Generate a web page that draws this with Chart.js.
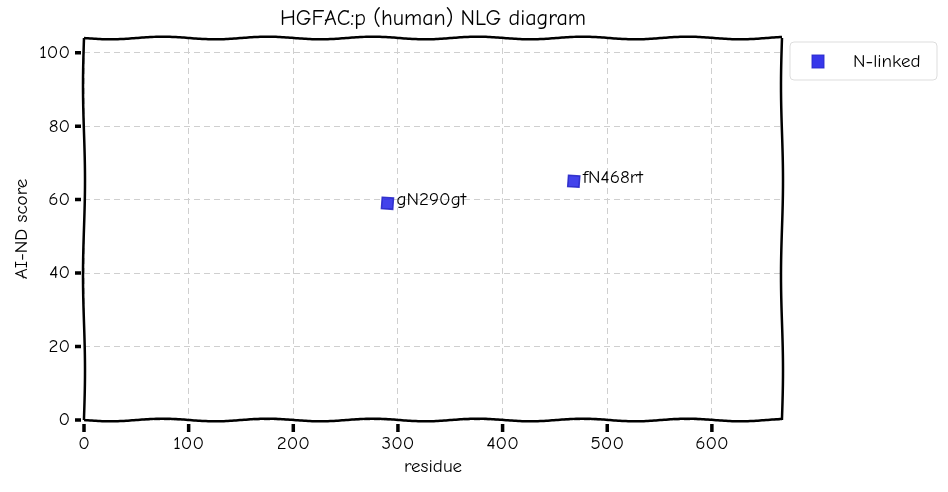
<!DOCTYPE html>
<html lang="en">
<head>
    <meta charset="UTF-8">
    <title>HGFAC:p (human) NLG diagram</title>
    <script src="https://cdn.jsdelivr.net/npm/chart.js"></script>
    <style>
        html, body { margin: 0; padding: 0; background: #fff; }
        #wrap { width: 948px; height: 492px; }
    </style>
</head>
<body>
<div id="wrap"><canvas id="nlgChart"></canvas></div>

<script>
    const residues = [290, 468];
    const scores = [59, 65];
    const siteLabels = ['gN290gt', 'fN468rt'];
    const xTicks = [0, 100, 200, 300, 400, 500, 600];
    const yTicks = [0, 20, 40, 60, 80, 100];

    const FONT = '"Humor Sans", "Comic Sans MS", "Comic Neue", "Open Sans", sans-serif';

    // wobbly line, xkcd style
    function wavy(ctx, x1, y1, x2, y2, amp, period) {
        const len = Math.hypot(x2 - x1, y2 - y1);
        const nx = -(y2 - y1) / len, ny = (x2 - x1) / len;
        ctx.beginPath();
        for (let d = 0; d <= len; d += 2) {
            const t = d / len;
            const off = amp * Math.sin(d / period * Math.PI * 2);
            const px = x1 + (x2 - x1) * t + nx * off;
            const py = y1 + (y2 - y1) * t + ny * off;
            if (d === 0) ctx.moveTo(px, py); else ctx.lineTo(px, py);
        }
        ctx.stroke();
    }

    const extras = {
        id: 'extras',
        beforeDatasetsDraw(chart) {
            const { ctx, chartArea: a, scales } = chart;
            ctx.save();
            ctx.strokeStyle = '#000';
            ctx.lineWidth = 2.5;
            wavy(ctx, a.left, a.top, a.right, a.top, 1.3, 105);
            wavy(ctx, a.left, a.bottom, a.right, a.bottom, 1.3, 105);
            wavy(ctx, a.left, a.top, a.left, a.bottom, 1.0, 190);
            wavy(ctx, a.right, a.top, a.right, a.bottom, 1.0, 190);
            // tick marks
            ctx.lineWidth = 3.5;
            ctx.beginPath();
            xTicks.forEach(v => {
                const px = scales.x.getPixelForValue(v);
                ctx.moveTo(px, a.bottom + 4);
                ctx.lineTo(px, a.bottom + 12);
            });
            yTicks.forEach(v => {
                const py = scales.y.getPixelForValue(v);
                ctx.moveTo(a.left - 9, py);
                ctx.lineTo(a.left - 3, py);
            });
            ctx.stroke();
            ctx.restore();
        },
        afterDatasetsDraw(chart) {
            const { ctx, chartArea: a, scales } = chart;
            ctx.save();
            // point labels
            ctx.fillStyle = '#000';
            ctx.font = '19px ' + FONT;
            ctx.textAlign = 'left';
            ctx.textBaseline = 'middle';
            residues.forEach((r, i) => {
                const px = scales.x.getPixelForValue(r);
                const py = scales.y.getPixelForValue(scores[i]);
                ctx.fillText(siteLabels[i], px + 9, py - 4);
            });
            // title
            ctx.font = '22px ' + FONT;
            ctx.textAlign = 'center';
            ctx.textBaseline = 'middle';
            ctx.fillText('HGFAC:p (human) NLG diagram', (a.left + a.right) / 2, 19);
            // legend
            const lx = 790, ly = 42, lw = 147, lh = 38;
            ctx.strokeStyle = '#ddd';
            ctx.lineWidth = 1;
            ctx.fillStyle = 'rgba(255,255,255,0.9)';
            ctx.beginPath();
            ctx.roundRect(lx, ly, lw, lh, 4);
            ctx.fill();
            ctx.stroke();
            ctx.fillStyle = 'rgba(20,20,230,0.85)';
            ctx.strokeStyle = 'rgba(40,40,200,0.9)';
            ctx.fillRect(812, 55, 12, 13);
            ctx.strokeRect(812, 55, 12, 13);
            ctx.fillStyle = '#000';
            ctx.font = '19px ' + FONT;
            ctx.textAlign = 'left';
            ctx.fillText('N-linked', 853, 62);
            ctx.restore();
        }
    };

    new Chart(document.getElementById('nlgChart'), {
        type: 'scatter',
        data: {
            datasets: [{
                label: 'N-linked',
                data: residues.map((r, i) => ({ x: r, y: scores[i] })),
                pointStyle: 'rect',
                pointRadius: 8,
                pointRotation: 4,
                backgroundColor: 'rgba(20,20,230,0.8)',
                borderColor: 'rgba(40,40,200,0.9)',
                borderWidth: 1.5
            }]
        },
        options: {
            responsive: true,
            maintainAspectRatio: false,
            animation: false,
            layout: { padding: { top: 38, right: 166, left: 0, bottom: 0 } },
            plugins: {
                legend: { display: false },
                title: { display: false },
                tooltip: { enabled: false }
            },
            scales: {
                x: {
                    type: 'linear',
                    min: 0,
                    max: 667,
                    afterBuildTicks: s => { s.ticks = xTicks.map(v => ({ value: v })); },
                    afterFit: s => { s.height = 72; },
                    border: { display: false, dash: [6, 4] },
                    grid: {
                        color: '#cfcfcf',
                        lineWidth: 1,
                        tickLength: 10,
                        tickColor: 'rgba(0,0,0,0)'
                    },
                    ticks: {
                        color: '#000',
                        font: { size: 19, family: FONT },
                        padding: 2
                    },
                    title: {
                        display: true,
                        text: 'residue',
                        color: '#000',
                        font: { size: 19, family: FONT },
                        padding: { top: 0, bottom: 14 }
                    }
                },
                y: {
                    min: 0,
                    max: 104,
                    afterBuildTicks: s => { s.ticks = yTicks.map(v => ({ value: v })); },
                    afterFit: s => { s.width = 84; },
                    border: { display: false, dash: [6, 4] },
                    grid: {
                        color: '#cfcfcf',
                        lineWidth: 1,
                        tickLength: 10,
                        tickColor: 'rgba(0,0,0,0)'
                    },
                    ticks: {
                        color: '#000',
                        font: { size: 19, family: FONT },
                        padding: 4
                    },
                    title: {
                        display: true,
                        text: 'AI-ND score',
                        color: '#000',
                        font: { size: 19, family: FONT },
                        padding: { top: 10, bottom: 4 }
                    }
                }
            }
        },
        plugins: [extras]
    });
</script>
</body>
</html>
